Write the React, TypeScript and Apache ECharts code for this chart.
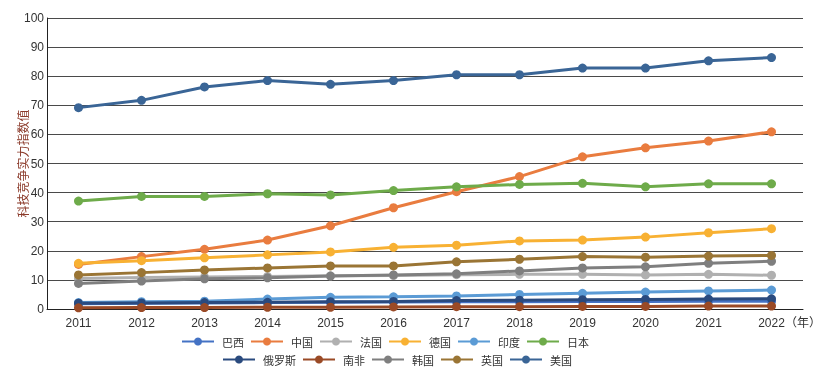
import React, { useEffect, useRef } from "react";
import * as echarts from "echarts";

const years = ["2011", "2012", "2013", "2014", "2015", "2016", "2017", "2018", "2019", "2020", "2021", "2022"];
const yTicks = [0, 10, 20, 30, 40, 50, 60, 70, 80, 90, 100];

const brazil = [1.8, 2.0, 2.1, 2.2, 2.3, 2.4, 2.5, 2.5, 2.6, 2.6, 2.7, 2.7];
const china = [15.3, 18.0, 20.5, 23.7, 28.6, 34.8, 40.3, 45.5, 52.3, 55.4, 57.7, 60.9];
const france = [10.5, 10.8, 11.0, 11.2, 11.4, 11.5, 11.8, 11.9, 11.9, 11.7, 11.9, 11.6];
const germany = [15.7, 16.6, 17.6, 18.6, 19.6, 21.2, 21.9, 23.4, 23.7, 24.7, 26.2, 27.6];
const india = [2.2, 2.5, 2.7, 3.4, 4.0, 4.2, 4.5, 5.0, 5.4, 5.8, 6.2, 6.5];
const japan = [37.1, 38.7, 38.7, 39.6, 39.2, 40.7, 42.0, 42.8, 43.2, 42.0, 43.0, 43.0];
const russia = [2.0, 2.1, 2.2, 2.3, 2.5, 2.6, 2.9, 3.0, 3.2, 3.3, 3.4, 3.5];
const southAfrica = [0.4, 0.5, 0.5, 0.6, 0.6, 0.7, 0.8, 0.8, 0.9, 0.9, 1.0, 1.0];
const korea = [8.8, 9.6, 10.4, 10.7, 11.3, 11.7, 12.1, 13.1, 14.1, 14.5, 15.7, 16.4];
const uk = [11.7, 12.5, 13.4, 14.1, 14.8, 14.8, 16.2, 17.1, 18.0, 17.8, 18.2, 18.4];
const usa = [69.2, 71.7, 76.3, 78.5, 77.2, 78.5, 80.5, 80.5, 82.8, 82.8, 85.3, 86.4];

const seriesNames = ["巴西", "中国", "法国", "德国", "印度", "日本", "俄罗斯", "南非", "韩国", "英国", "美国"];
const seriesData = [brazil, china, france, germany, india, japan, russia, southAfrica, korea, uk, usa];
const seriesColors = ["#4472C4", "#E97C3F", "#B0B0B0", "#F8B133", "#5B9BD5", "#6EAB4A", "#2A4A7E", "#9A4A26", "#7F7F7F", "#9A7535", "#3A6596"];
const legendRow1 = ["巴西", "中国", "法国", "德国", "印度", "日本"];
const legendRow2 = ["俄罗斯", "南非", "韩国", "英国", "美国"];

const FONT = "'Liberation Sans', Arial, 'Noto Sans CJK SC', sans-serif";

export default function App() {
  const ref = useRef<HTMLDivElement>(null);
  useEffect(() => {
    if (!ref.current) return;
    const chart = echarts.init(ref.current, null, { renderer: "svg" });
    const legendCommon = {
      itemWidth: 32,
      itemHeight: 10,
      itemGap: 6,
      padding: 0,
      textStyle: {
        fontSize: 11,
        color: "#333",
        fontFamily: "'Noto Sans CJK SC', sans-serif",
        width: 33,
        padding: [0, 0, 0, 3],
      },
    };
    chart.setOption({
      animation: false,
      grid: { left: 47, right: 20, top: 18, bottom: 64, outerBoundsMode: "none", containLabel: false },
      legend: [
        { ...legendCommon, data: legendRow1, left: 181, top: 336 },
        { ...legendCommon, data: legendRow2, left: 222, top: 354 },
      ],
      xAxis: {
        type: "category",
        data: years,
        boundaryGap: true,
        axisLine: { show: true, lineStyle: { color: "#222", width: 1 } },
        axisTick: { show: false },
        axisLabel: { color: "#333", fontSize: 12, fontFamily: FONT, margin: 8 },
      },
      yAxis: {
        type: "value",
        min: yTicks[0],
        max: yTicks[yTicks.length - 1],
        interval: 10,
        name: "科技竞争实力指数值",
        nameLocation: "middle",
        nameGap: 19,
        nameMoveOverlap: false,
        nameTextStyle: { color: "#8B3A2A", fontSize: 12, fontFamily: "'Noto Sans CJK SC', sans-serif" },
        axisLine: { show: true, lineStyle: { color: "#222", width: 1 } },
        axisTick: { show: false },
        axisLabel: { color: "#333", fontSize: 12, fontFamily: FONT, margin: 3 },
        splitLine: { show: true, lineStyle: { color: "#4a4a4a", width: 1 } },
      },
      graphic: [
        {
          type: "text",
          left: 785,
          top: 315,
          style: { text: "（年）", fontSize: 12, fill: "#333", fontFamily: "'Noto Sans CJK SC', sans-serif" },
        },
      ],
      series: seriesNames.map((name, i) => ({
        name,
        type: "line",
        data: seriesData[i],
        symbol: "circle",
        symbolSize: 9,
        lineStyle: { width: 3, color: seriesColors[i] },
        itemStyle: { color: seriesColors[i] },
      })),
    });
    return () => chart.dispose();
  }, []);
  return <div ref={ref} style={{ position: "fixed", left: 0, top: 0, width: 823, height: 373 }} />;
}
